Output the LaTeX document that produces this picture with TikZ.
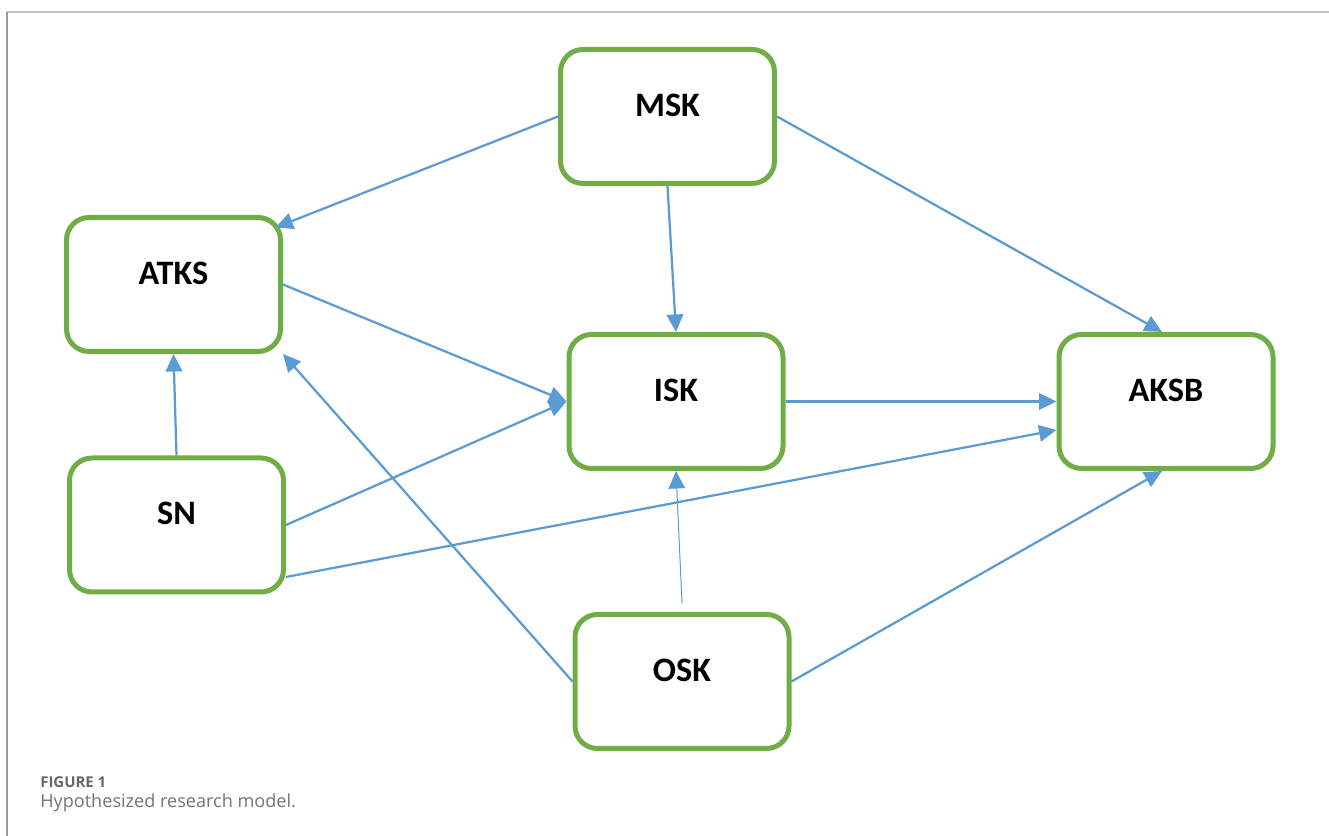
\documentclass[tikz,border=0pt]{standalone}
\usepackage{fontspec}
\newfontfamily\boxfont{Carlito}
\newfontfamily\capfont{Open Sans}
\usetikzlibrary{arrows.meta}
\definecolor{boxgreen}{RGB}{112,173,71}
\definecolor{linkblue}{RGB}{91,155,213}
\tikzset{
  construct/.style={draw=boxgreen, line width=0.1cm, rounded corners=0.45cm, minimum width=4.28cm, minimum height=2.68cm, inner sep=0pt, font=\boxfont\bfseries\fontsize{19.5}{23}\selectfont, text height=0.5cm, text depth=0.5cm},
  link/.style={draw=linkblue, line width=0.045cm, -{Triangle[length=0.35cm,width=0.33cm]}}
}

\begin{document}
\begin{tikzpicture}
    \useasboundingbox (0,0) rectangle (26.58,16.72);
    \draw[black!25, line width=0.03cm] (0.14,16.48) -- (26.58,16.48);
    \draw[black!40, line width=0.03cm] (0.14,0) -- (0.14,16.48);
    %constructs
    \node[construct] (MSK) at (13.35,14.39) {MSK};
    \node[construct] (ATKS) at (3.47,11.03) {ATKS};
    \node[construct] (ISK) at (13.52,8.69) {ISK};
    \node[construct] (AKSB) at (23.32,8.69) {AKSB};
    \node[construct] (SN) at (3.53,6.22) {SN};
    \node[construct] (OSK) at (13.64,3.09) {OSK};
    %hypotheses
    \draw[link] (MSK.west) -- ([shift={(-0.15,-0.25)}]ATKS.north east);
    \draw[link] (MSK.east) -- ([xshift=-0.08cm]AKSB.north);
    \draw[link] (MSK.south) -- (ISK.north);
    \draw[link] (ATKS.east) -- (ISK.west);
    \draw[link] (SN.east) -- (ISK.west);
    \draw[link] (SN.north) -- (ATKS.south);
    \draw[link] ([yshift=-1.04cm]SN.east) -- ([yshift=-0.57cm]AKSB.west);
    \draw[link] (ISK.east) -- (AKSB.west);
    \draw[link] (OSK.west) -- (ATKS.south east);
    \draw[link, line width=0.02cm] ([yshift=0.18cm]OSK.north) -- (ISK.south);
    \draw[link] (OSK.east) -- ([xshift=-0.08cm]AKSB.south);
    %caption
    \node[anchor=base west, inner sep=0pt, text=black!60, font=\capfont\bfseries\fontsize{8.5}{10}\selectfont] (fignum) at (0.8,0.96) {FIGURE 1};
    \node[anchor=base west, inner sep=0pt, text=black!55, font=\capfont\fontsize{10.3}{12}\selectfont] (figcap) at (0.8,0.57) {Hypothesized research model.};
\end{tikzpicture}
\end{document}
